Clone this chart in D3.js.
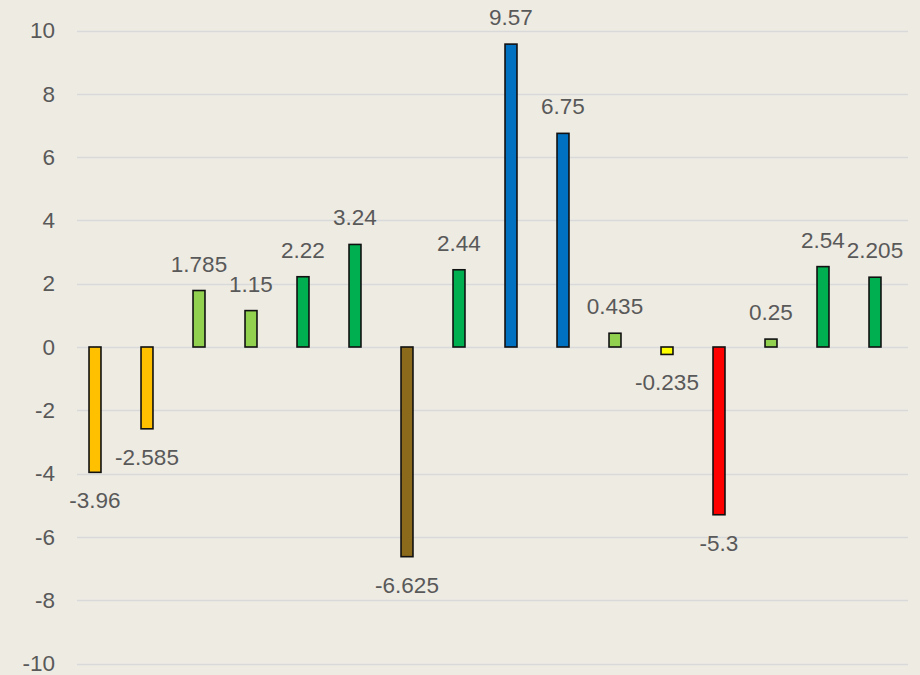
<!DOCTYPE html>
<html>
<head>
<meta charset="utf-8">
<script src="https://cdn.jsdelivr.net/npm/d3@7"></script>
<style>
  body { margin: 0; background: #eeebe3; }
  svg { display: block; }
  text { font-family: "Liberation Sans", Arial, sans-serif; fill: #595959; }
</style>
</head>
<body>
<div id="chart"></div>
<script>
// Chart data
var categories = ["1", "2", "3", "4", "5", "6", "7", "8", "9", "10", "11", "12", "13", "14", "15", "16"];
var values = [-3.96, -2.585, 1.785, 1.15, 2.22, 3.24, -6.625, 2.44, 9.57, 6.75, 0.435, -0.235, -5.3, 0.25, 2.54, 2.205];
var barColors = ["#ffc000", "#ffc000", "#92d050", "#92d050", "#00b050", "#00b050", "#8c6a1c", "#00b050",
                 "#0070c0", "#0070c0", "#92d050", "#ffff00", "#ff0000", "#92d050", "#00b050", "#00b050"];
var yTicks = [-10, -8, -6, -4, -2, 0, 2, 4, 6, 8, 10];

var svgWidth = 920;
var svgHeight = 675;

var svg = d3.select("#chart")
  .append("svg")
  .attr("width", svgWidth)
  .attr("height", svgHeight);

svg.append("rect")
  .attr("width", svgWidth)
  .attr("height", svgHeight)
  .attr("fill", "#eeebe3");

// Scales
var xScale = d3.scaleBand()
  .domain(categories)
  .range([69, 901])
  .paddingInner(0.77)
  .paddingOuter(0.385);

var yScale = d3.scaleLinear()
  .domain([-10, 10])
  .range([663.5, 30.5]);

// Gridlines
svg.append("g")
  .selectAll("line")
  .data(yTicks)
  .enter()
  .append("line")
  .attr("x1", 77)
  .attr("x2", 908)
  .attr("y1", d => Math.round(yScale(d)) + 0.5)
  .attr("y2", d => Math.round(yScale(d)) + 0.5)
  .attr("stroke", "#d9d9d9")
  .attr("stroke-width", 1.5);

// Left axis (labels only), plain hyphen for negatives
var leftAxis = d3.axisLeft(yScale)
  .tickValues(yTicks)
  .tickSize(0)
  .tickPadding(0)
  .tickFormat(d => String(d));

var axisG = svg.append("g")
  .attr("transform", "translate(55, 0)")
  .call(leftAxis);
axisG.select(".domain").remove();
axisG.selectAll("text")
  .style("font-size", "22.5px")
  .style("font-family", "'Liberation Sans', Arial, sans-serif")
  .attr("fill", "#595959");

// Bars
svg.append("g")
  .selectAll("rect")
  .data(values)
  .enter()
  .append("rect")
  .attr("x", (d, i) => xScale(categories[i]))
  .attr("y", d => yScale(Math.max(0, d)))
  .attr("width", xScale.bandwidth())
  .attr("height", d => Math.abs(yScale(d) - yScale(0)))
  .attr("fill", (d, i) => barColors[i])
  .attr("stroke", "#111")
  .attr("stroke-width", 1.6);

// Data labels
svg.append("g")
  .selectAll("text")
  .data(values)
  .enter()
  .append("text")
  .attr("x", (d, i) => xScale(categories[i]) + xScale.bandwidth() / 2)
  .attr("y", d => d >= 0 ? yScale(d) - 19 : yScale(d) + 36)
  .attr("text-anchor", "middle")
  .style("font-size", "22.5px")
  .text(d => d);
</script>
</body>
</html>
